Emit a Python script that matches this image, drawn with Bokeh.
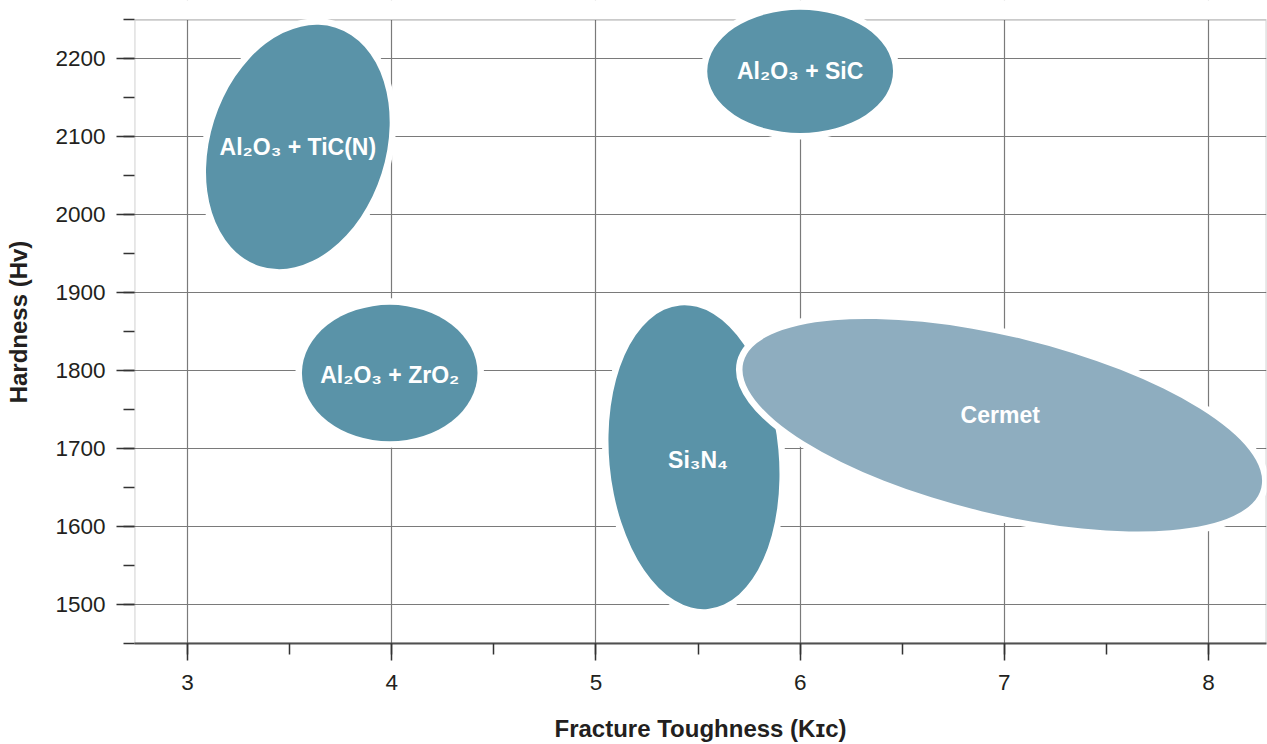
import numpy as np
from bokeh.plotting import figure
from bokeh.models import Range1d, SingleIntervalTicker, BoxAnnotation, ColumnDataSource
from bokeh.core.properties import value
from bokeh.embed import file_html
from bokeh.resources import INLINE

# ---- data ----
materials = ["Al₂O₃ + TiC(N)", "Al₂O₃ + ZrO₂", "Al₂O₃ + SiC", "Si₃N₄", "Cermet"]
toughness_center = [3.54, 3.99, 6.00, 5.48, 6.99]      # K_IC
hardness_center = [2087, 1797, 2184, 1689, 1730]        # Hv
toughness_span = [0.86, 0.86, 0.91, 0.83, 2.61]
hardness_span = [321, 175, 158, 391, 227]
tilt_deg = [-17.6, 0.0, 0.0, 5.2, -13.6]
label_toughness = [3.54, 3.99, 6.00, 5.50, 6.98]
label_hardness = [2087, 1795, 2184, 1686, 1743]
region_colors = ["#5a93a8", "#5a93a8", "#5a93a8", "#5a93a8", "#8eadbf"]

x_title = "Fracture Toughness (Kɪᴄ)"
y_title = "Hardness (Hᴠ)"
hardness_top = 2250

FONT = "Liberation Sans"

p = figure(width=1267, height=744, output_backend="svg", toolbar_location=None,
           x_range=Range1d(2.74, 8.284), y_range=Range1d(1450, 2274.9),
           min_border_left=134, min_border_right=1, min_border_top=0, min_border_bottom=97)
p.outline_line_color = None
p.background_fill_color = "white"
p.border_fill_color = "white"

# grids
for g in (p.xgrid, p.ygrid):
    g.grid_line_color = "#7a7a7a"
    g.grid_line_width = 1.2

# white mask above the top of the frame box, then the frame box itself
# (both under the regions, so the regions may overlap them)
mask = BoxAnnotation(bottom=hardness_top, top=2400, fill_color="white", fill_alpha=1.0,
                     line_color=None, level="underlay")
p.add_layout(mask)
frame_box = BoxAnnotation(top=hardness_top, fill_alpha=0.0, line_color="#505050",
                          line_width=1.8, level="underlay")
p.add_layout(frame_box)

# axes
p.xaxis.ticker = SingleIntervalTicker(interval=1, num_minor_ticks=2)
p.yaxis.ticker = SingleIntervalTicker(interval=100, num_minor_ticks=2)
p.xaxis.axis_label = x_title
p.yaxis.axis_label = y_title
for ax in (p.xaxis[0], p.yaxis[0]):
    ax.major_label_text_font = FONT
    ax.major_label_text_font_size = "22.5px"
    ax.major_label_text_color = "#231f20"
    ax.axis_label_text_font = FONT
    ax.axis_label_text_font_style = "bold"
    ax.axis_label_text_font_size = "24px"
    ax.axis_label_text_color = "#231f20"
    ax.major_tick_in = 0
    ax.minor_tick_in = 0
    ax.minor_tick_out = 11
    ax.major_tick_line_color = "#333333"
    ax.minor_tick_line_color = "#333333"
    ax.major_tick_line_width = 1.5
    ax.minor_tick_line_width = 1.5
p.xaxis.major_tick_out = 17
p.yaxis.major_tick_out = 18
p.xaxis.axis_line_color = "#505050"
p.xaxis.axis_line_width = 1.8
p.yaxis.axis_line_color = None
p.yaxis.major_label_standoff = 11
p.xaxis.major_label_standoff = 14
p.yaxis.axis_label_standoff = 20
p.xaxis.axis_label_standoff = 22

# regions: white halo then fill, one region at a time so later ones cut earlier ones
for i in range(len(materials)):
    src = ColumnDataSource(dict(x=[toughness_center[i]], y=[hardness_center[i]],
                                w=[toughness_span[i]], h=[hardness_span[i]],
                                a=[tilt_deg[i]]))
    p.ellipse(x="x", y="y", width="w", height="h", angle="a", angle_units="deg",
              source=src, fill_color="white", line_color="white", line_width=13)
    p.ellipse(x="x", y="y", width="w", height="h", angle="a", angle_units="deg",
              source=src, fill_color=region_colors[i], line_color=None)

p.text(x=label_toughness, y=label_hardness, text=materials, text_color="white",
       text_font=value(FONT), text_font_style="bold", text_font_size="23px",
       text_align="center", text_baseline="middle")

open("out.html", "w").write(file_html(p, INLINE))
